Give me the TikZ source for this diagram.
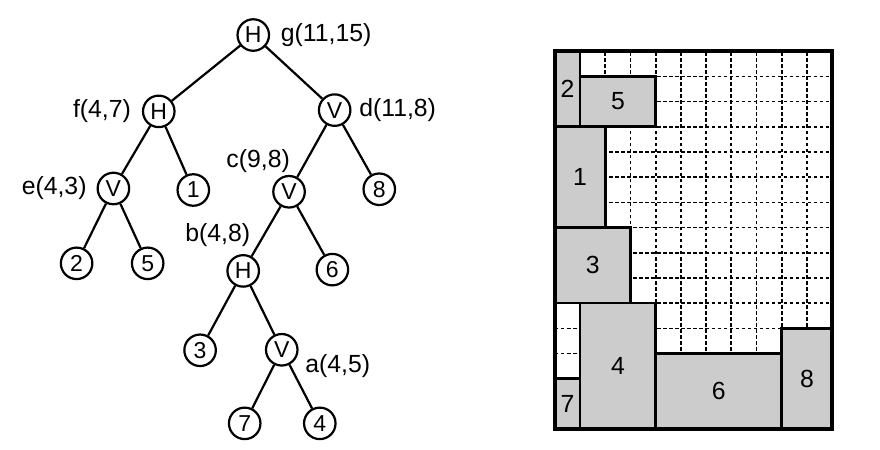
\documentclass[tikz,border=0pt]{standalone}
\usepackage{fontspec}
\setmainfont{Liberation Sans}
\usepackage{tikz}
\usetikzlibrary{positioning}
\definecolor{blkgray}{RGB}{204,204,204}

\tikzset{
    cut/.style={circle, draw, line width=2.5pt, minimum size=1.25cm, inner sep=0pt, font=\fontsize{26}{30}\selectfont},
    lbl/.style={inner sep=0pt, font=\fontsize{28}{33}\selectfont},
    edge/.style={line width=2.5pt},
    blk/.style={draw, fill=blkgray, line width=3pt},
    blklbl/.style={inner sep=0pt, font=\fontsize{28}{33}\selectfont},
    gridline/.style={line width=1.9pt, dash pattern=on 4pt off 2.8pt}
}

\begin{document}
\begin{tikzpicture}
    \useasboundingbox (0,0) rectangle (34.92,17.82);

    % Slicing tree
    \node[cut] (G) at (10.05,16.43) {H};
    \node[cut] (F) at (6.30,13.40) {H};
    \node[cut] (D) at (13.28,13.45) {V};
    \node[cut] (E) at (4.50,10.34) {V};
    \node[cut] (L1) at (7.67,10.28) {1};
    \node[cut] (C) at (11.47,10.21) {V};
    \node[cut] (L8) at (15.05,10.31) {8};
    \node[cut] (L2) at (3.04,7.37) {2};
    \node[cut] (L5) at (5.86,7.37) {5};
    \node[cut] (B) at (9.65,7.07) {H};
    \node[cut] (L6) at (13.19,7.12) {6};
    \node[cut] (L3) at (7.94,3.92) {3};
    \node[cut] (A) at (11.18,3.94) {V};
    \node[cut] (L7) at (9.71,1.02) {7};
    \node[cut] (L4) at (12.69,1.02) {4};

    % Sizes of the cuts
    \node[lbl, right=0.42cm of G] (Glab) {g(11,15)};
    \node[lbl, left=0.43cm of F] (Flab) {f(4,7)};
    \node[lbl, right=0.3cm of D] (Dlab) {d(11,8)};
    \node[lbl, left=0.39cm of E] (Elab) {e(4,3)};
    \node[lbl, anchor=south east] (Clab) at ([xshift=0.04cm, yshift=0.1cm]C.north) {c(9,8)};
    \node[lbl, anchor=south east] (Blab) at ([xshift=0.28cm, yshift=0.28cm]B.north) {b(4,8)};
    \node[lbl, anchor=west] (Alab) at ([xshift=0.93cm, yshift=-0.63cm]A.center) {a(4,5)};

    % Edges
    \draw[edge] (G) -- (F);
    \draw[edge] (G) -- (D);
    \draw[edge] (F) -- (E);
    \draw[edge] (F) -- (L1);
    \draw[edge] (D) -- (C);
    \draw[edge] (D) -- (L8);
    \draw[edge] (E) -- (L2);
    \draw[edge] (E) -- (L5);
    \draw[edge] (C) -- (B);
    \draw[edge] (C) -- (L6);
    \draw[edge] (B) -- (L3);
    \draw[edge] (B) -- (A);
    \draw[edge] (A) -- (L7);
    \draw[edge] (A) -- (L4);

    % Floorplan
    \begin{scope}[shift={(22.02,0.79)}]
        \draw[gridline] (0,0) grid (11,15);
        \foreach \n/\x/\y/\w/\h in {2/0/12/1/3, 5/1/12/3/2, 1/0/8/2/4, 3/0/5/3/3,
                                    7/0/0/1/2, 4/1/0/3/5, 6/4/0/5/3, 8/9/0/2/4} {
            \draw[blk] (\x,\y) rectangle ++(\w,\h);
            \node[blklbl] (M\n) at ({\x+\w/2},{\y+\h/2}) {\n};
        }
        \draw[line width=3.8pt] (0,0) rectangle (11,15);
    \end{scope}
\end{tikzpicture}
\end{document}
